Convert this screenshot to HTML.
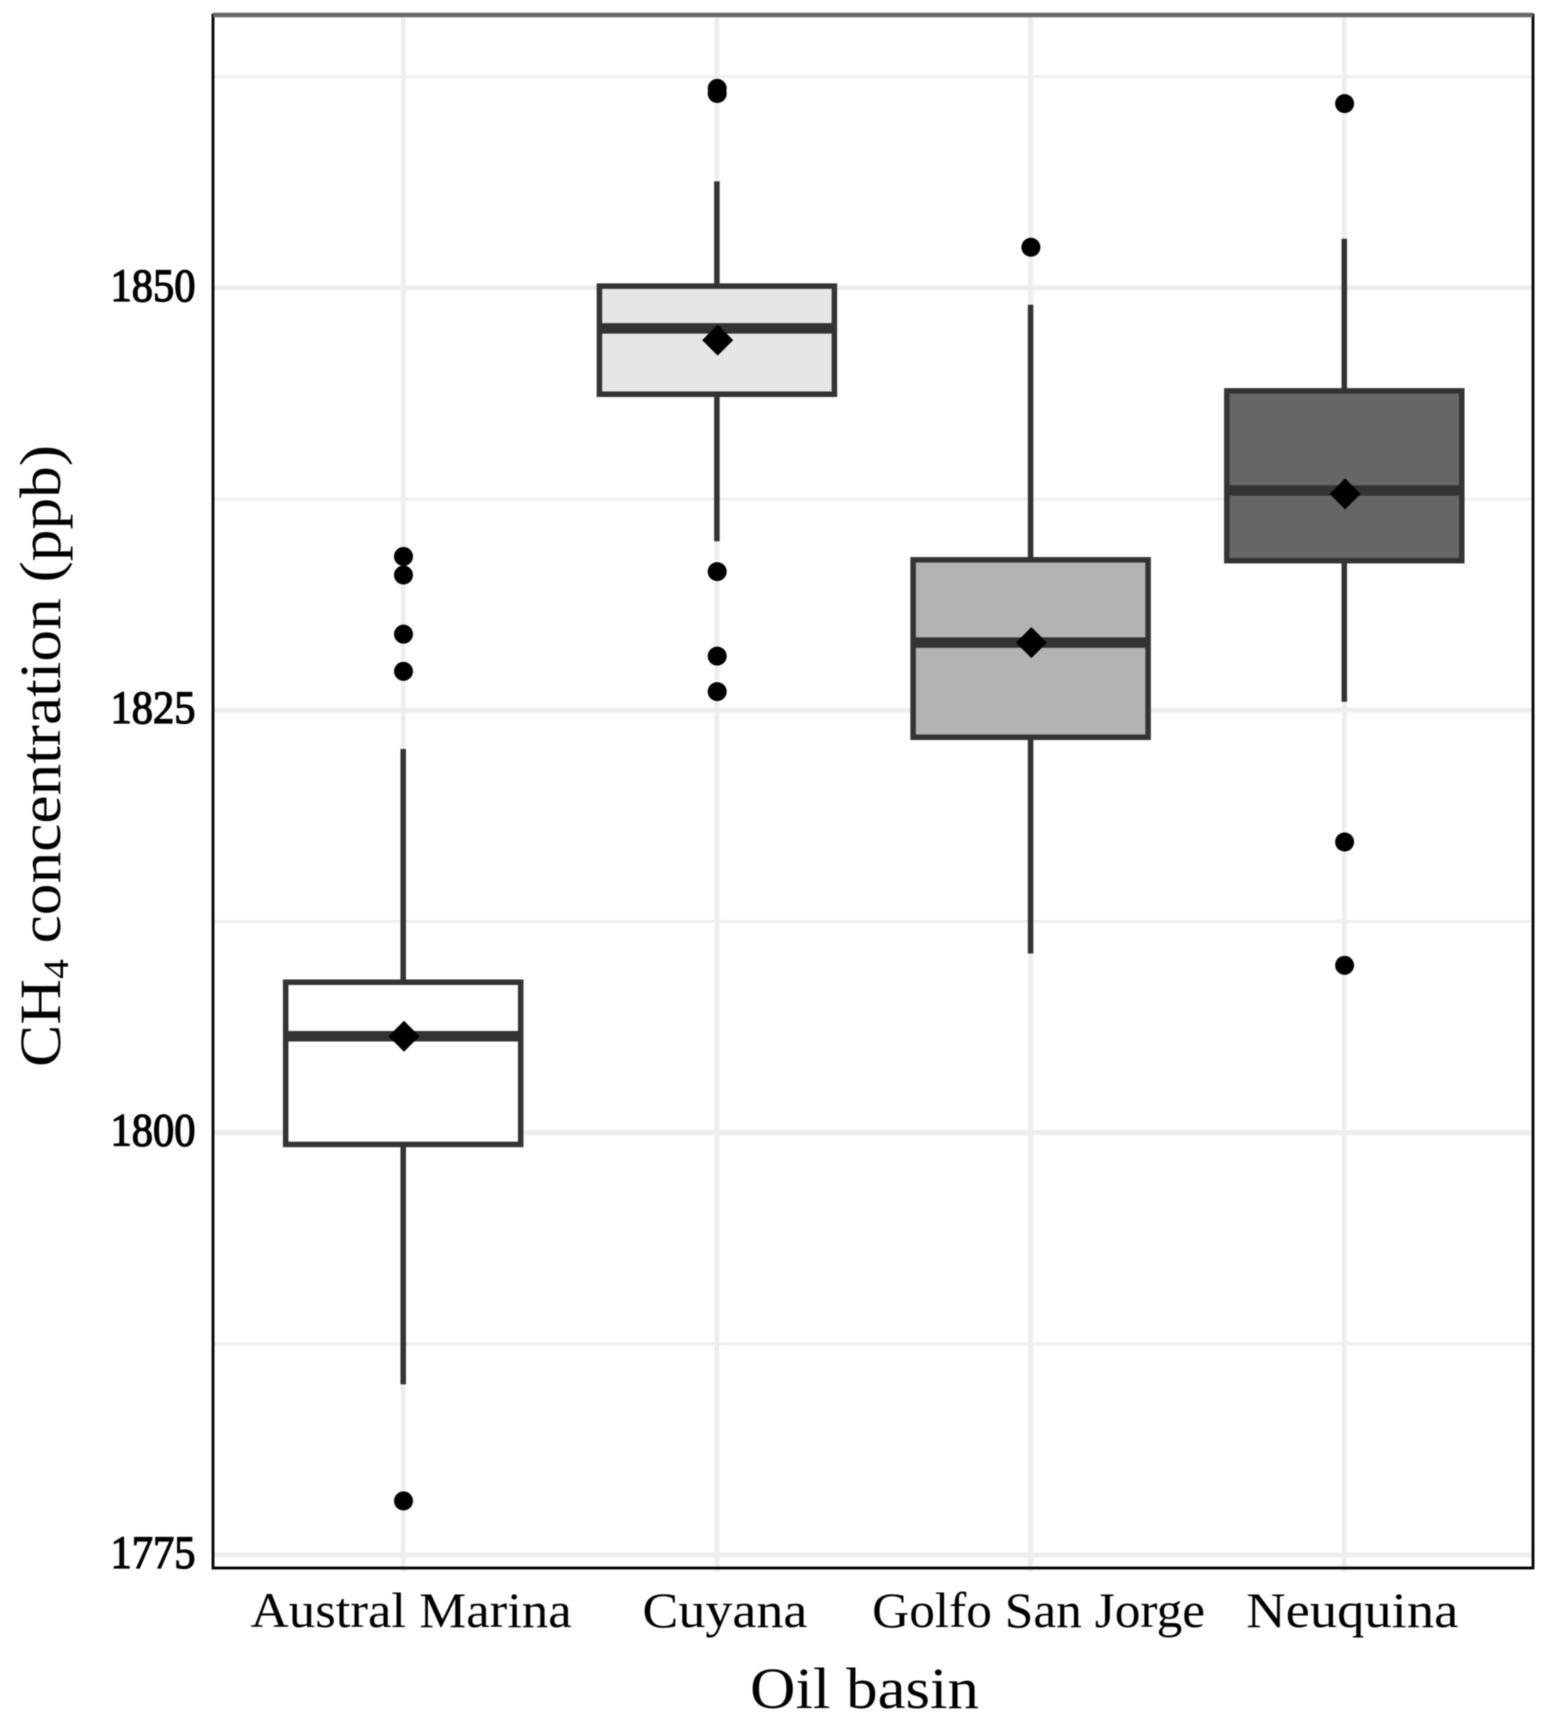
<!DOCTYPE html>
<html>
<head>
<meta charset="utf-8">
<title>CH4 concentration by oil basin</title>
<style>
html,body{margin:0;padding:0;background:#fff;}
svg{display:block;filter:blur(0.5px);}
text{font-family:"Liberation Serif",serif;fill:#000;}
</style>
</head>
<body>
<svg id="chart" xmlns="http://www.w3.org/2000/svg" width="1548" height="1722" viewBox="0 0 1548 1722">
  <text transform="translate(60,1067) rotate(-90)" font-size="58" textLength="622" lengthAdjust="spacingAndGlyphs">CH<tspan font-size="36" dy="8">4</tspan><tspan dy="-8"> concentration (ppb)</tspan></text>
  <text x="750" y="1708" font-size="58" textLength="229" lengthAdjust="spacingAndGlyphs">Oil basin</text>
</svg>
<script>
const categories = ["Austral Marina", "Cuyana", "Golfo San Jorge", "Neuquina"];
const whiskerHigh = [1822.7, 1856.3, 1849.0, 1852.9];
const q3Values = [1808.9, 1850.1, 1833.9, 1843.9];
const medians = [1805.7, 1847.6, 1829.0, 1838.0];
const means = [1805.7, 1846.9, 1829.0, 1837.8];
const q1Values = [1799.3, 1843.7, 1823.4, 1833.85];
const whiskerLow = [1785.1, 1835.0, 1810.6, 1825.5];
const outliersAustral = [1834.1, 1833.0, 1829.5, 1827.3, 1778.2];
const outliersCuyana = [1861.8, 1861.5, 1833.2, 1828.2, 1826.1];
const outliersGolfo = [1852.4];
const outliersNeuquina = [1860.9, 1817.2, 1809.9];
const outliers = [outliersAustral, outliersCuyana, outliersGolfo, outliersNeuquina];
const majorTicks = [1775, 1800, 1825, 1850];
const minorTicks = [1787.5, 1812.5, 1837.5, 1862.5];

const boxFills = ["#ffffff", "#e6e6e6", "#b3b3b3", "#666666"];
const labelWidthsPx = [321, 165, 333, 212];

const SVGNS = "http://www.w3.org/2000/svg";
const svg = document.getElementById("chart");
const panelLeft = 213, panelRight = 1533, panelTop = 15, panelBottom = 1568;

function x(i) { return 403.2 + i * 313.7; }
function y(v) { return 1555 - (v - 1775) * 16.896; }

function make(tag, attrs) {
  const el = document.createElementNS(SVGNS, tag);
  for (const k in attrs) el.setAttribute(k, attrs[k]);
  svg.appendChild(el);
  return el;
}

minorTicks.forEach(function (t) {
  const el = make("line", { x1: panelLeft, x2: panelRight, y1: y(t), y2: y(t), stroke: "#efefef", "stroke-width": 3 });
  
  
});
majorTicks.forEach(function (t) {
  const el = make("line", { x1: panelLeft, x2: panelRight, y1: y(t), y2: y(t), stroke: "#eeeeee", "stroke-width": 5 });
  
  
});
categories.forEach(function (c, i) {
  const el = make("line", { x1: x(i), x2: x(i), y1: panelTop, y2: 1572, stroke: "#eeeeee", "stroke-width": 5 });
  
  
});

const halfBox = 117.5;
categories.forEach(function (c, i) {
  const wUp = make("line", { x1: x(i), x2: x(i), y1: y(whiskerHigh[i]), y2: y(q3Values[i]), stroke: "#333333", "stroke-width": 5.5 });
  
  
  const wDown = make("line", { x1: x(i), x2: x(i), y1: y(q1Values[i]), y2: y(whiskerLow[i]), stroke: "#333333", "stroke-width": 5.5 });
  
  
  const box = make("rect", { x: x(i) - halfBox, width: 2 * halfBox, y: y(q3Values[i]), height: y(q1Values[i]) - y(q3Values[i]), fill: boxFills[i], stroke: "#333333", "stroke-width": 5.5 });
  
  
  const med = make("line", { x1: x(i) - halfBox, x2: x(i) + halfBox, y1: y(medians[i]), y2: y(medians[i]), stroke: "#333333", "stroke-width": 10.5 });
  
  
  const cx = x(i) + 0.8, cy = y(means[i]), d = 15.5;
  const dia = make("polygon", { points: (cx - d) + "," + cy + " " + cx + "," + (cy - d) + " " + (cx + d) + "," + cy + " " + cx + "," + (cy + d), fill: "#000" });
  
  
  outliers[i].forEach(function (v) {
    const o = make("circle", { cx: x(i) + 0.3, cy: y(v), r: 9.5, fill: "#000" });
    
    
  });
  const lab = make("text", { x: x(i) + 8, y: 1627, "font-size": 50, "text-anchor": "middle", textLength: labelWidthsPx[i], lengthAdjust: "spacingAndGlyphs" });
  lab.textContent = c;
  
  
});

majorTicks.forEach(function (t) {
  const lab = make("text", { x: 195.5, y: y(t) + 13, "font-size": 47, "text-anchor": "end", stroke: "#000", "stroke-width": 1.3, textLength: 85, lengthAdjust: "spacingAndGlyphs" });
  lab.textContent = String(t);
  
  
});

const border = make("rect", { x: panelLeft, y: panelTop, width: panelRight - panelLeft, height: panelBottom - panelTop, fill: "none", stroke: "#000", "stroke-width": 2.8 });


const topEdge = make("line", { x1: panelLeft, x2: panelRight, y1: panelTop, y2: panelTop, stroke: "#666666", "stroke-width": 4.5 });


</script>
</body>
</html>
